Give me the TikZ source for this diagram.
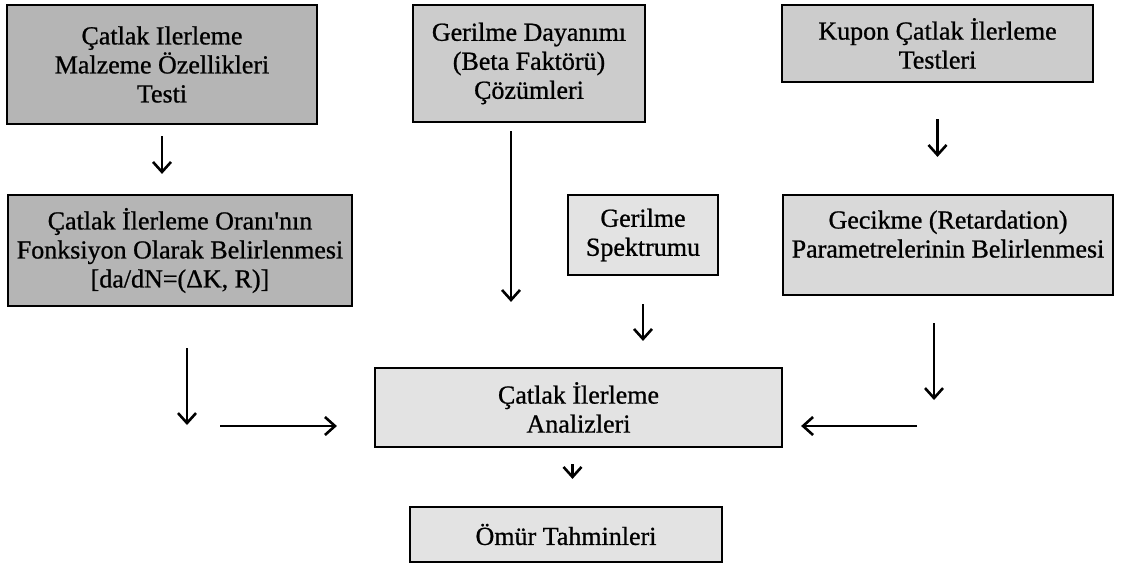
\documentclass[tikz,border=0pt]{standalone}
\usepackage{fontspec}
\setmainfont{Liberation Serif}[RawFeature={embolden=0.8}]
\usetikzlibrary{arrows.meta}
\tikzset{
  fc box/.style={
    rectangle,
    draw=black,
    line width=1.1pt,
    align=center,
    inner sep=0pt,
    font=\fontsize{13}{14.5}\selectfont,
  },
  fc dark/.style={fc box, fill=black!29},
  fc mid/.style={fc box, fill=black!20},
  fc soft/.style={fc box, fill=black!15},
  fc light/.style={fc box, fill=black!11},
  fc arrow/.style={-{Straight Barb[length=5pt,width=9pt]}, line width=1.3pt},
}

\begin{document}
\begin{tikzpicture}[x=0.5pt, y=-0.5pt]
  \useasboundingbox (0,0) rectangle (1128,569);
  \node[fc dark, minimum width=155pt, minimum height=59.5pt] (malz) at (162,64.5) {Çatlak Ilerleme\\Malzeme Özellikleri\\Testi};
  \node[fc mid, minimum width=116pt, minimum height=58.5pt] (beta) at (529,63.5) {Gerilme Dayanımı\\(Beta Faktörü)\\Çözümleri};
  \node[fc mid, minimum width=155.5pt, minimum height=38.5pt] (kupon) at (937.5,43.5) {Kupon Çatlak İlerleme\\Testleri};
  \node[fc dark, minimum width=172pt, minimum height=55.5pt] (oran) at (180,250.5) {Çatlak İlerleme Oranı\textquotesingle nın\\Fonksiyon Olarak Belirlenmesi\\{[}da/dN=(ΔK, R)]};
  \node[fc light, minimum width=75pt, minimum height=40pt] (spek) at (643,235) {Gerilme\\Spektrumu};
  \node[fc soft, minimum width=165pt, minimum height=50pt] (gecik) at (948,245) {Gecikme (Retardation)\\Parametrelerinin Belirlenmesi\rule[-11pt]{0pt}{11pt}};
  \node[fc light, minimum width=203.5pt, minimum height=39.5pt] (anal) at (578.5,407.5) {Çatlak İlerleme\\Analizleri};
  \node[fc light, minimum width=156pt, minimum height=27.5pt] (omur) at (566,534.5) {Ömür Tahminleri};

  \coordinate (bfoot) at ([xshift=-9pt]beta.south);
  \coordinate (afoot) at ([xshift=-3pt]anal.south);
  \coordinate (lend) at (187,425);
  \coordinate (lfrom) at (220,426);
  \coordinate (rend) at (934,400);
  \coordinate (rfrom) at (917,426);

  \draw[fc arrow, shorten <=5.5pt, shorten >=10pt] (malz.south) -- (malz.south |- oran.north);
  \draw[fc arrow, shorten <=4pt, shorten >=32.5pt] (bfoot) -- (bfoot |- anal.north);
  \draw[fc arrow, shorten <=18pt, shorten >=18.5pt] (kupon.south) -- (kupon.south |- gecik.north);
  \draw[fc arrow, shorten <=20.5pt] (oran.south -| lend) -- (lend);
  \draw[fc arrow, shorten >=18.5pt] (lfrom) -- (anal.west |- lfrom);
  \draw[fc arrow, shorten <=14pt, shorten >=13pt] (spek.south) -- (spek.south |- anal.north);
  \draw[fc arrow, shorten <=13.5pt] (gecik.south -| rend) -- (rend);
  \draw[fc arrow, shorten >=9pt] (rfrom) -- (anal.east |- rfrom);
  \draw[fc arrow, shorten <=8pt, shorten >=13.5pt] (afoot) -- (afoot |- omur.north);
\end{tikzpicture}
\end{document}
